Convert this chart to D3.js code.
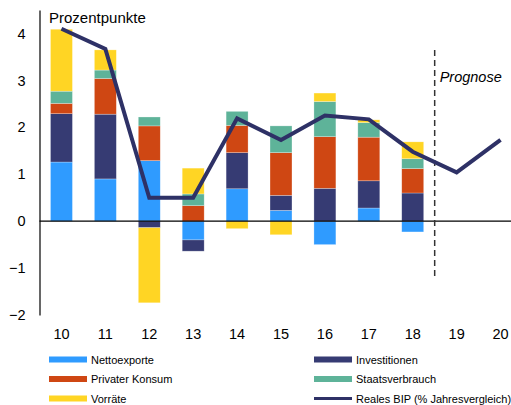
<!DOCTYPE html>
<html>
<head>
<meta charset="utf-8">
<script src="https://cdn.jsdelivr.net/npm/d3@7"></script>
<style>
  body { margin: 0; background: #fff; }
  text { font-family: "Liberation Sans", Arial, sans-serif; fill: #000; }
</style>
</head>
<body>
<div id="chart"></div>
<script>
var svgWidth = 511;
var svgHeight = 405;

// data
var years = ['10', '11', '12', '13', '14', '15', '16', '17', '18', '19', '20'];
var nettoexporte = [1.26, 0.9, 1.29, -0.4, 0.69, 0.23, -0.5, 0.28, -0.23, 0, 0];
var investitionen = [1.03, 1.38, -0.14, -0.24, 0.77, 0.32, 0.7, 0.58, 0.6, 0, 0];
var privaterKonsum = [0.22, 0.76, 0.74, 0.33, 0.58, 0.91, 1.1, 0.93, 0.52, 0, 0];
var staatsverbrauch = [0.26, 0.18, 0.19, 0.25, 0.3, 0.57, 0.75, 0.31, 0.21, 0, 0];
var vorraete = [1.32, 0.43, -1.6, 0.55, -0.16, -0.29, 0.18, 0.06, 0.36, 0, 0];
var realesBIP = [4.1, 3.67, 0.5, 0.5, 2.19, 1.73, 2.25, 2.17, 1.48, 1.04, 1.73];
var yTicks = [-2, -1, 0, 1, 2, 3, 4];

var seriesInfo = [
  { key: 'netto', name: 'Nettoexporte', values: nettoexporte, color: '#2f9bff' },
  { key: 'inv', name: 'Investitionen', values: investitionen, color: '#363b73' },
  { key: 'konsum', name: 'Privater Konsum', values: privaterKonsum, color: '#cf4713' },
  { key: 'staat', name: 'Staatsverbrauch', values: staatsverbrauch, color: '#5eb399' },
  { key: 'vorr', name: 'Vorräte', values: vorraete, color: '#ffd524' }
];
var lineColor = '#2e3166';

var table = years.map(function(y, i) {
  var row = { year: y };
  seriesInfo.forEach(function(s) { row[s.key] = s.values[i]; });
  return row;
});

var svg = d3.select('#chart').append('svg')
    .attr('width', svgWidth)
    .attr('height', svgHeight);

var x = d3.scaleBand()
    .domain(years)
    .range([39.5, 522.5])
    .paddingInner(0.5)
    .paddingOuter(0.25);

var y = d3.scaleLinear()
    .domain([-2, 4.5])
    .range([315, 10]);

// stacked bars
var stack = d3.stack()
    .keys(seriesInfo.map(function(s) { return s.key; }))
    .offset(d3.stackOffsetDiverging);
var stacked = stack(table);

svg.append('g').selectAll('g')
    .data(stacked)
    .enter()
    .append('g')
    .attr('fill', function(d, i) { return seriesInfo[i].color; })
    .selectAll('rect')
    .data(function(d) { return d; })
    .enter()
    .append('rect')
    .attr('x', function(d) { return x(d.data.year); })
    .attr('width', x.bandwidth())
    .attr('y', function(d) { return y(Math.max(d[0], d[1])); })
    .attr('height', function(d) { return Math.abs(y(d[0]) - y(d[1])); })
    .attr('stroke', 'rgba(255,255,255,0.45)')
    .attr('stroke-width', 0.6);

// axes
var leftAxis = d3.axisLeft(y).tickValues(yTicks).tickSize(0).tickPadding(14).tickFormat(d3.format('d'));
var yAxis = svg.append('g')
    .attr('transform', 'translate(39.5,0)')
    .call(leftAxis);
yAxis.select('.domain').attr('stroke', '#000').attr('stroke-width', 1.2);
yAxis.selectAll('text').attr('font-size', '14.5px').attr('font-family', '"Liberation Sans", Arial, sans-serif');

svg.append('line')
    .attr('x1', 39.5).attr('x2', svgWidth)
    .attr('y1', y(0)).attr('y2', y(0))
    .attr('stroke', '#000').attr('stroke-width', 1.2);

var bottomAxis = d3.axisBottom(x).tickSize(0).tickPadding(0);
var xAxis = svg.append('g')
    .attr('transform', 'translate(0,' + 329 + ')')
    .call(bottomAxis);
xAxis.select('.domain').remove();
xAxis.selectAll('text').attr('font-size', '14.5px').attr('font-family', '"Liberation Sans", Arial, sans-serif');

// forecast divider
var divX = (x('18') + x('19') + x.bandwidth()) / 2;
svg.append('line')
    .attr('x1', divX).attr('x2', divX)
    .attr('y1', y(3.65)).attr('y2', y(-1.25))
    .attr('stroke', '#333').attr('stroke-width', 1.5)
    .attr('stroke-dasharray', '6,4');

svg.append('text')
    .attr('x', divX + 5)
    .attr('y', 82)
    .attr('font-size', '14.5px')
    .attr('font-style', 'italic')
    .text('Prognose');

svg.append('text')
    .attr('x', 49)
    .attr('y', 23)
    .attr('font-size', '15px')
    .text('Prozentpunkte');

// GDP line
var line = d3.line()
    .x(function(d, i) { return x(years[i]) + x.bandwidth() / 2; })
    .y(function(d) { return y(d); });

svg.append('path')
    .datum(realesBIP)
    .attr('d', line)
    .attr('fill', 'none')
    .attr('stroke', lineColor)
    .attr('stroke-width', 4)
    .attr('stroke-linejoin', 'miter');

// legend
var legendItems = [
  { name: 'Nettoexporte', color: seriesInfo[0].color, col: 0, row: 0 },
  { name: 'Privater Konsum', color: seriesInfo[2].color, col: 0, row: 1 },
  { name: 'Vorräte', color: seriesInfo[4].color, col: 0, row: 2 },
  { name: 'Investitionen', color: seriesInfo[1].color, col: 1, row: 0 },
  { name: 'Staatsverbrauch', color: seriesInfo[3].color, col: 1, row: 1 },
  { name: 'Reales BIP (% Jahresvergleich)', color: lineColor, col: 1, row: 2, line: true }
];

var legend = svg.append('g').selectAll('g')
    .data(legendItems)
    .enter()
    .append('g')
    .attr('transform', function(d) {
      return 'translate(' + (d.col ? 314 : 49) + ',' + (359.5 + d.row * 19.5) + ')';
    });

legend.append('rect')
    .attr('x', 0)
    .attr('y', function(d) { return d.line ? -1.5 : -3; })
    .attr('width', 38)
    .attr('height', function(d) { return d.line ? 3 : 6; })
    .attr('fill', function(d) { return d.color; });

legend.append('text')
    .attr('x', 42)
    .attr('y', 4)
    .attr('font-size', '11px')
    .text(function(d) { return d.name; });
</script>
</body>
</html>
